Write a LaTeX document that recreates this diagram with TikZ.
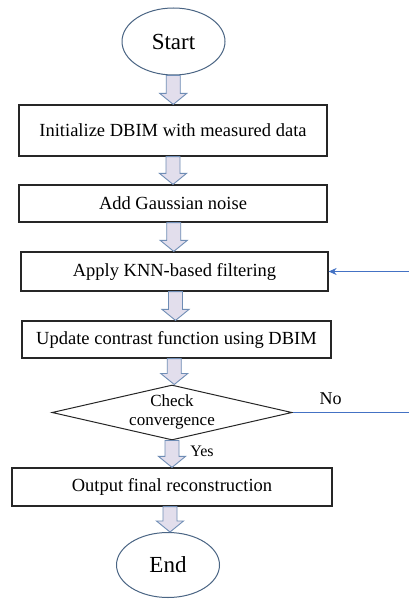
\documentclass[tikz,border=0pt]{standalone}
\usepackage{fontspec}
\setmainfont{Liberation Serif}
\usetikzlibrary{shapes.geometric,arrows.meta,calc}
\definecolor{arrowfill}{HTML}{E2DEEC}
\definecolor{arrowline}{HTML}{6F8DB5}
\definecolor{ovalline}{HTML}{4A6584}
\definecolor{linkblue}{HTML}{4472C4}
\definecolor{boxline}{HTML}{262626}
\newcommand\blockarrow[2]{%
  \path let \p1=(#1.south), \p2=(#2.north), \p3=($(\p1)!0.5!(\p2)$) in
    [draw=arrowline, fill=arrowfill, line width=0.9pt, line join=miter]
    (\x3-7pt,\y1) -- (\x3+7pt,\y1) -- (\x3+7pt,\y2+11pt) -- (\x3+13.5pt,\y2+11pt)
    -- (\x3,\y2) -- (\x3-13.5pt,\y2+11pt) -- (\x3-7pt,\y2+11pt) -- cycle;}
\begin{document}
\begin{tikzpicture}[x=1pt,y=-1pt,
  procbox/.style={draw=boxline, line width=1.2pt, rectangle, inner sep=0pt,
    font=\fontsize{18.5}{22}\selectfont},
  oval/.style={draw=ovalline, line width=1pt, ellipse, inner sep=0pt,
    font=\fontsize{23}{27}\selectfont},
  decision/.style={draw=boxline, line width=1pt, diamond, inner sep=0pt},
  lbl/.style={inner sep=0pt, font=\fontsize{17}{19}\selectfont},
  link/.style={linkblue, line width=1.1pt}]
\useasboundingbox (0,0) rectangle (409,599);
\fill[white] (0,0) rectangle (409,599);

\node[oval, minimum width=103pt, minimum height=67pt] (start) at (173.5,41.5) {Start};
\node[procbox, minimum width=308pt, minimum height=51pt] (b1) at (173,130.5) {Initialize DBIM with measured data};
\node[procbox, minimum width=308pt, minimum height=37pt] (b2) at (173,203.5) {Add Gaussian noise};
\node[procbox, minimum width=307pt, minimum height=39pt] (b3) at (174.5,271.5) {Apply KNN-based filtering};
\node[procbox, minimum width=309pt, minimum height=37pt] (b4) at (176.5,339.5) {Update contrast function using DBIM};
\node[decision, minimum width=240pt, minimum height=55pt] (conv) at (172,412.5) {};
\node[lbl, align=center] (convtext) at (172,412) {Check\\convergence};
\node[procbox, minimum width=320pt, minimum height=38pt] (b5) at (172,487) {Output final reconstruction};
\node[oval, minimum width=103pt, minimum height=65pt] (end) at (168,565) {End};

\blockarrow{start}{b1}
\blockarrow{b1}{b2}
\blockarrow{b2}{b3}
\blockarrow{b3}{b4}
\blockarrow{b4}{conv}
\blockarrow{conv}{b5}
\blockarrow{b5}{end}

\coordinate (fbin) at (409,271.5);
\draw[link, -{Stealth[length=8pt,width=7pt]}] (fbin) -- (b3.east);
\coordinate (noout) at (409,412.5);
\draw[link] (conv.east) -- (noout);

\node[lbl, font=\fontsize{18}{20}\selectfont] (nolab) at (330.5,399) {No};
\node[lbl, font=\fontsize{16}{18}\selectfont] (yeslab) at (202,451) {Yes};
\end{tikzpicture}
\end{document}
